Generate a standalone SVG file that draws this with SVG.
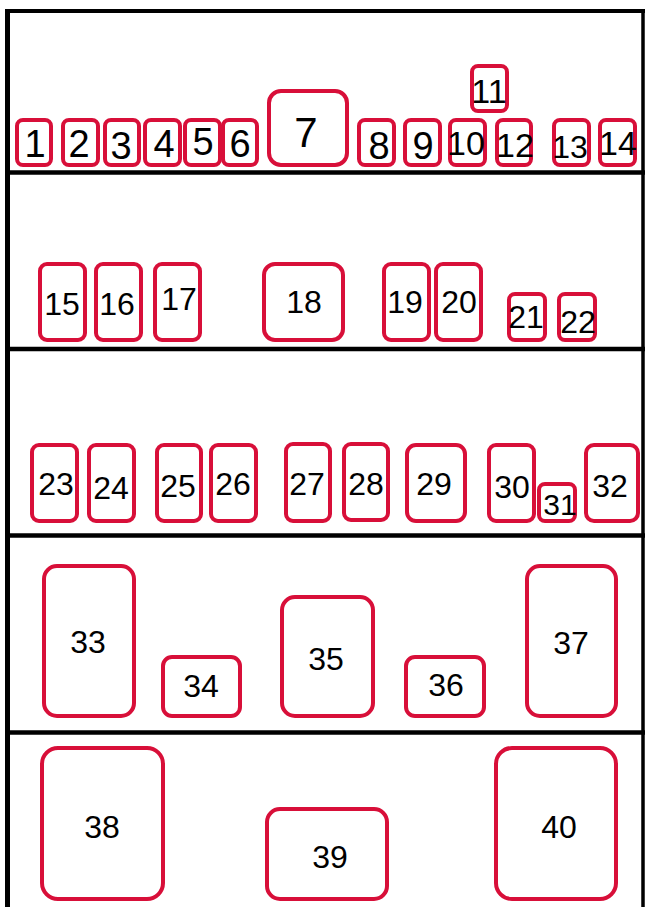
<svg xmlns="http://www.w3.org/2000/svg" width="646" height="907" viewBox="0 0 646 907">
<style>
.f{fill:none;stroke:#d80f39;stroke-width:4}
.t{font-family:"Liberation Sans",Arial,sans-serif;fill:#000;text-anchor:middle}
.a{font-size:38px}.b{font-size:34px}.c{font-size:32px}.d{font-size:30px}.e{font-size:42px}
.fr{stroke:#000;fill:none}
</style>
<rect width="646" height="907" fill="#fff"/>
<g id="frame">
<line class="fr" x1="5" y1="11" x2="645" y2="11" stroke-width="4"/>
<line class="fr" x1="7.5" y1="9" x2="7.5" y2="907" stroke-width="5"/>
<line class="fr" x1="643" y1="9" x2="643" y2="907" stroke-width="3.5"/>
<line class="fr" x1="5" y1="172.5" x2="645" y2="172.5" stroke-width="4.5"/>
<line class="fr" x1="5" y1="349" x2="645" y2="349" stroke-width="4.5"/>
<line class="fr" x1="5" y1="535.5" x2="645" y2="535.5" stroke-width="4.5"/>
<line class="fr" x1="5" y1="732.5" x2="645" y2="732.5" stroke-width="4.5"/>
</g>
<g id="connectors"></g>
<g id="n1"><rect class="f" x="17" y="120" width="34" height="45" rx="6"/><text class="t a" x="35" y="157">1</text></g>
<g id="n2"><rect class="f" x="63" y="120" width="35" height="45" rx="6"/><text class="t a" x="79" y="157">2</text></g>
<g id="n3"><rect class="f" x="105" y="120" width="34" height="45" rx="6"/><text class="t a" x="121" y="159">3</text></g>
<g id="n4"><rect class="f" x="145" y="120" width="35" height="45" rx="6"/><text class="t a" x="164" y="157">4</text></g>
<g id="n5"><rect class="f" x="185" y="120" width="35" height="45" rx="6"/><text class="t a" x="203" y="155">5</text></g>
<g id="n6"><rect class="f" x="223" y="120" width="34" height="45" rx="6"/><text class="t a" x="240" y="157">6</text></g>
<g id="n7"><rect class="f" x="269" y="91" width="78" height="74" rx="12"/><text class="t e" x="306" y="147">7</text></g>
<g id="n8"><rect class="f" x="359" y="120" width="35" height="45" rx="6"/><text class="t a" x="379" y="159">8</text></g>
<g id="n9"><rect class="f" x="405" y="120" width="35" height="45" rx="6"/><text class="t a" x="423" y="159">9</text></g>
<g id="n10"><rect class="f" x="450" y="120" width="35" height="45" rx="6"/><text class="t b" x="466" y="155">10</text></g>
<g id="n11"><rect class="f" x="472" y="66" width="35" height="45" rx="6"/><text class="t b" x="489" y="103">11</text></g>
<g id="n12"><rect class="f" x="497" y="120" width="34" height="45" rx="6"/><text class="t b" x="515" y="157">12</text></g>
<g id="n13"><rect class="f" x="554" y="120" width="35" height="45" rx="6"/><text class="t c" x="570" y="158">13</text></g>
<g id="n14"><rect class="f" x="600" y="120" width="35" height="45" rx="6"/><text class="t b" x="618" y="155">14</text></g>
<g id="n15"><rect class="f" x="40" y="264" width="45" height="76" rx="7"/><text class="t c" x="62" y="315">15</text></g>
<g id="n16"><rect class="f" x="96" y="264" width="45" height="76" rx="7"/><text class="t c" x="117" y="315">16</text></g>
<g id="n17"><rect class="f" x="155" y="264" width="45" height="76" rx="7"/><text class="t c" x="179" y="310">17</text></g>
<g id="n18"><rect class="f" x="264" y="264" width="79" height="76" rx="11"/><text class="t c" x="304" y="313">18</text></g>
<g id="n19"><rect class="f" x="384" y="264" width="45" height="76" rx="7"/><text class="t c" x="405" y="313">19</text></g>
<g id="n20"><rect class="f" x="436" y="264" width="45" height="76" rx="7"/><text class="t c" x="459" y="313">20</text></g>
<g id="n21"><rect class="f" x="509" y="294" width="36" height="46" rx="6"/><text class="t c" x="526" y="328">21</text></g>
<g id="n22"><rect class="f" x="559" y="294" width="36" height="46" rx="6"/><text class="t c" x="578" y="333">22</text></g>
<g id="n23"><rect class="f" x="32" y="445" width="45" height="76" rx="7"/><text class="t c" x="56" y="495">23</text></g>
<g id="n24"><rect class="f" x="89" y="445" width="45" height="76" rx="7"/><text class="t c" x="111" y="499">24</text></g>
<g id="n25"><rect class="f" x="157" y="445" width="44" height="76" rx="7"/><text class="t c" x="178" y="497">25</text></g>
<g id="n26"><rect class="f" x="211" y="445" width="45" height="76" rx="7"/><text class="t c" x="233" y="495">26</text></g>
<g id="n27"><rect class="f" x="286" y="444" width="44" height="77" rx="7"/><text class="t c" x="307" y="495">27</text></g>
<g id="n28"><rect class="f" x="344" y="444" width="44" height="76" rx="7"/><text class="t c" x="366" y="495">28</text></g>
<g id="n29"><rect class="f" x="407" y="445" width="58" height="76" rx="9"/><text class="t c" x="434" y="495">29</text></g>
<g id="n30"><rect class="f" x="489" y="445" width="45" height="76" rx="7"/><text class="t c" x="512" y="498">30</text></g>
<g id="n31"><rect class="f" x="539" y="484" width="36" height="37" rx="6"/><text class="t d" x="560" y="515">31</text></g>
<g id="n32"><rect class="f" x="586" y="445" width="52" height="76" rx="8"/><text class="t c" x="610" y="497">32</text></g>
<g id="n33"><rect class="f" x="44" y="566" width="90" height="150" rx="13"/><text class="t c" x="88" y="653">33</text></g>
<g id="n34"><rect class="f" x="163" y="657" width="77" height="59" rx="9"/><text class="t c" x="201" y="697">34</text></g>
<g id="n35"><rect class="f" x="282" y="597" width="91" height="119" rx="13"/><text class="t c" x="326" y="670">35</text></g>
<g id="n36"><rect class="f" x="406" y="657" width="78" height="59" rx="9"/><text class="t c" x="446" y="696">36</text></g>
<g id="n37"><rect class="f" x="527" y="566" width="89" height="150" rx="13"/><text class="t c" x="571" y="654">37</text></g>
<g id="n38"><rect class="f" x="42" y="748" width="121" height="151" rx="16"/><text class="t c" x="102" y="838">38</text></g>
<g id="n39"><rect class="f" x="267" y="809" width="120" height="90" rx="13"/><text class="t c" x="330" y="868">39</text></g>
<g id="n40"><rect class="f" x="496" y="748" width="120" height="151" rx="16"/><text class="t c" x="559" y="838">40</text></g>
</svg>
